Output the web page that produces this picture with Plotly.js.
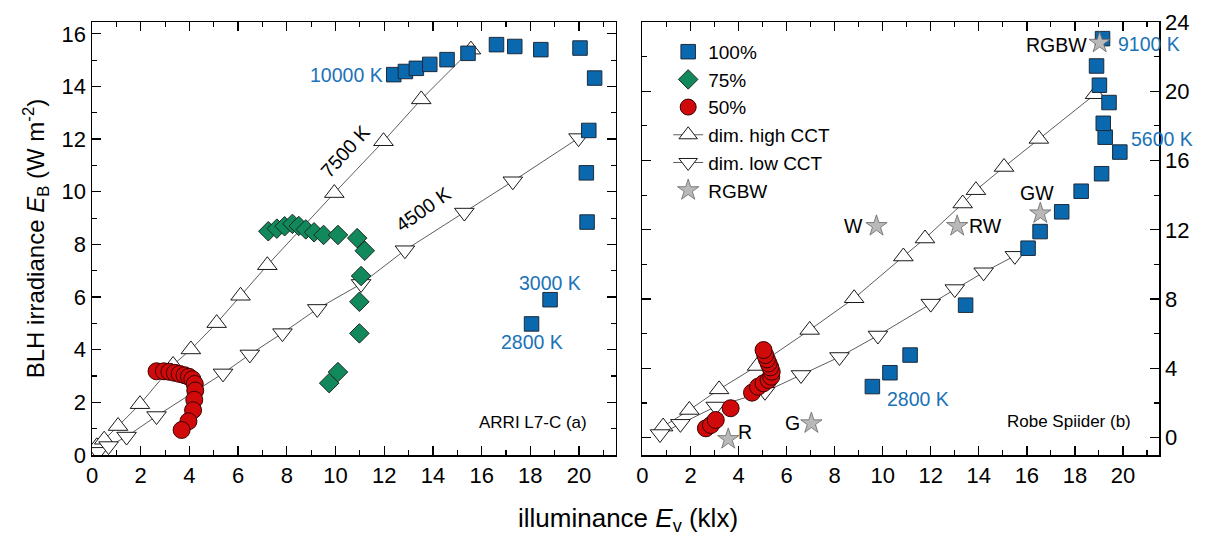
<!DOCTYPE html>
<html>
<head>
<meta charset="utf-8">
<script src="https://cdn.plot.ly/plotly-3.0.1.min.js"></script>
<style>html,body{margin:0;padding:0;background:#fff;}#chart{width:1217px;height:536px;}</style>
</head>
<body>
<div id="chart"></div>
<script>
// ---------- Panel (a): ARRI L7-C ----------
const a100x = [12.39, 12.87, 13.32, 13.87, 14.58, 15.44, 16.61, 17.36, 18.43, 20.04, 20.64, 20.4, 20.3, 20.33, 18.81, 18.05];
const a100y = [14.45, 14.57, 14.69, 14.84, 15.02, 15.26, 15.59, 15.52, 15.40, 15.46, 14.32, 12.33, 10.72, 8.85, 5.9, 4.98];
const a75x = [7.24, 7.59, 7.91, 8.23, 8.49, 8.78, 9.12, 9.51, 10.1, 10.89, 11.2, 11.05, 10.98, 10.98, 10.1, 9.74];
const a75y = [8.5, 8.6, 8.69, 8.78, 8.7, 8.57, 8.46, 8.36, 8.36, 8.24, 7.76, 6.8, 5.82, 4.62, 3.15, 2.73];
const a50x = [2.65, 2.95, 3.18, 3.4, 3.6, 3.8, 3.98, 4.12, 4.22, 4.24, 4.2, 4.15, 3.96, 3.68];
const a50y = [3.18, 3.18, 3.16, 3.12, 3.08, 3.03, 2.97, 2.88, 2.7, 2.45, 2.1, 1.7, 1.28, 0.95];
const aHighX = [0.2, 0.5, 1.07, 1.97, 3.33, 4.06, 5.12, 6.1, 7.2, 9.95, 11.97, 13.52, 15.56];
const aHighY = [0.33, 0.58, 1.1, 1.93, 3.42, 4.01, 5.01, 6.05, 7.21, 9.95, 11.92, 13.51, 15.4];
const aLowX = [0.25, 0.68, 1.42, 2.65, 5.38, 6.48, 7.82, 9.25, 11.05, 12.85, 15.29, 17.28, 19.98];
const aLowY = [0.12, 0.34, 0.7, 1.48, 3.1, 3.82, 4.63, 5.55, 6.5, 7.78, 9.21, 10.4, 12.04];

// ---------- Panel (b): Robe Spiider ----------
const b100x = [9.57, 10.3, 11.14, 13.45, 16.05, 16.55, 17.45, 18.26, 19.11, 19.87, 19.26, 19.18, 19.42, 19.02, 18.9, 19.15];
const b100y = [2.95, 3.75, 4.77, 7.65, 10.94, 11.9, 13.04, 14.23, 15.24, 16.49, 17.35, 18.15, 19.35, 20.35, 21.46, 23.04];
const b50x = [2.64, 2.85, 3.05, 3.67, 4.56, 4.81, 5.04, 5.25, 5.36, 5.38, 5.32, 5.25, 5.18, 5.11, 5.04];
const b50y = [0.54, 0.73, 1.02, 1.7, 2.6, 2.94, 3.14, 3.33, 3.52, 3.81, 4.06, 4.29, 4.52, 4.77, 5.06];
const bHighX = [0.86, 1.95, 3.19, 4.77, 6.96, 8.81, 10.86, 11.76, 13.33, 13.88, 15.05, 16.5, 18.84];
const bHighY = [0.64, 1.6, 2.79, 4.14, 6.22, 8.05, 10.46, 11.5, 13.52, 14.29, 15.63, 17.25, 19.83];
const bLowX = [0.73, 1.58, 3.05, 5.1, 6.6, 8.2, 9.8, 12.0, 13.0, 14.2, 15.5];
const bLowY = [0.21, 0.8, 1.8, 2.65, 3.62, 4.66, 5.9, 7.74, 8.58, 9.55, 10.5];
const rgbwNames = ["R", "G", "W", "RW", "GW", "RGBW"];
const rgbwX = [3.57, 7.03, 9.74, 13.1, 16.56, 19.03];
const rgbwY = [-0.08, 0.83, 12.22, 12.22, 12.95, 22.8];

// ---------- labels ----------
const tickX = [0, 2, 4, 6, 8, 10, 12, 14, 16, 18, 20];
const tickYa = [0, 2, 4, 6, 8, 10, 12, 14, 16];
const tickYb = [0, 4, 8, 12, 16, 20, 24];

const BLUE = "#0a68ae", GREEN = "#12895c", RED = "#d00a0a", STARC = "#b9b9b9";
const LBLUE = "#1a72b8";
const FONT = "Liberation Sans, Arial, sans-serif";

const lineStyle = {color: "#333", width: 0.8};
const openMk = (sym) => ({symbol: sym, size: 17, color: "#fff", line: {color: "#000", width: 0.9}});

const traces = [
  // panel a
  {x: aHighX, y: aHighY, mode: "lines+markers", line: lineStyle, marker: openMk("triangle-up"),
   name: "dim. high CCT", xaxis: "x", yaxis: "y", showlegend: false},
  {x: aLowX, y: aLowY, mode: "lines+markers", line: lineStyle, marker: openMk("triangle-down"),
   name: "dim. low CCT", xaxis: "x", yaxis: "y", showlegend: false},
  {x: a100x, y: a100y, mode: "markers", marker: {symbol: "square", size: 14.5, color: BLUE, line: {color: "#1d2b3a", width: 1}},
   name: "100%", xaxis: "x", yaxis: "y", showlegend: false},
  {x: a75x, y: a75y, mode: "markers", marker: {symbol: "diamond", size: 15, color: GREEN, line: {color: "#1a2a22", width: 1}},
   name: "75%", xaxis: "x", yaxis: "y", legendrank: 2},
  {x: a50x, y: a50y, mode: "markers", marker: {symbol: "circle", size: 17, color: RED, line: {color: "#3a0000", width: 1}},
   name: "50%", xaxis: "x", yaxis: "y", showlegend: false},
  // panel b
  {x: bHighX, y: bHighY, mode: "lines+markers", line: lineStyle, marker: openMk("triangle-up"),
   name: "dim. high CCT", xaxis: "x2", yaxis: "y2", legendrank: 4},
  {x: bLowX, y: bLowY, mode: "lines+markers", line: lineStyle, marker: openMk("triangle-down"),
   name: "dim. low CCT", xaxis: "x2", yaxis: "y2", legendrank: 5},
  {x: b100x, y: b100y, mode: "markers", marker: {symbol: "square", size: 14.5, color: BLUE, line: {color: "#1d2b3a", width: 1}},
   name: "100%", xaxis: "x2", yaxis: "y2", legendrank: 1},
  {x: b50x, y: b50y, mode: "markers", marker: {symbol: "circle", size: 17, color: RED, line: {color: "#3a0000", width: 1}},
   name: "50%", xaxis: "x2", yaxis: "y2", legendrank: 3},
  {x: rgbwX, y: rgbwY, text: rgbwNames, mode: "markers", marker: {symbol: "star", size: 16, color: STARC, line: {color: "#666", width: 0.8}},
   name: "RGBW", xaxis: "x2", yaxis: "y2", legendrank: 6}
];

const axBase = {
  showline: true, linecolor: "#000", linewidth: 1.5, mirror: "ticks", ticks: "inside",
  ticklen: 9, tickwidth: 1.3, tickcolor: "#000", showgrid: false, zeroline: false,
  tickfont: {family: FONT, size: 22, color: "#000"},
  minor: {ticks: "inside", ticklen: 5, tickwidth: 1.1, tickcolor: "#000", showgrid: false}
};

const ann = (x, y, text, xref, yref, o) => Object.assign({x, y, text, xref, yref, showarrow: false,
  font: {family: FONT, size: 19.5, color: "#000"}}, o || {});
const blueFont = {family: FONT, size: 19.5, color: LBLUE};

const annotations = [
  ann(12.05, 14.45, "10000 K", "x", "y", {xanchor: "right", font: blueFont}),
  ann(18.8, 6.55, "3000 K", "x", "y", {font: blueFont}),
  ann(18.05, 4.3, "2800 K", "x", "y", {font: blueFont}),
  ann(10.4, 11.55, "7500 K", "x", "y", {textangle: -48}),
  ann(13.6, 9.35, "4500 K", "x", "y", {textangle: -35}),
  ann(20.4, 1.25, "ARRI L7-C (a)", "x", "y", {xanchor: "right", font: {family: FONT, size: 17, color: "#000"}}),
  ann(20.4, 0.95, "Robe Spiider (b)", "x2", "y2", {xanchor: "right", font: {family: FONT, size: 17, color: "#000"}}),
  ann(11.45, 2.25, "2800 K", "x2", "y2", {font: blueFont}),
  ann(19.72, 22.72, "9100 K", "x2", "y2", {xanchor: "left", font: blueFont}),
  ann(20.25, 17.25, "5600 K", "x2", "y2", {xanchor: "left", font: blueFont}),
  ann(18.6, 22.7, "RGBW", "x2", "y2", {xanchor: "right"}),
  ann(9.25, 12.22, "W", "x2", "y2", {xanchor: "right"}),
  ann(13.5, 12.22, "RW", "x2", "y2", {xanchor: "left"}),
  ann(16.42, 14.1, "GW", "x2", "y2"),
  ann(3.9, 0.3, "R", "x2", "y2", {xanchor: "left"}),
  ann(6.65, 0.83, "G", "x2", "y2", {xanchor: "right"}),
  ann(0.502, -0.15, "illuminance <i>E</i><sub>v</sub> (klx)", "paper", "paper",
      {xanchor: "center", yanchor: "middle", font: {family: FONT, size: 26, color: "#000"}})
];

const layout = {
  width: 1217, height: 536,
  margin: {l: 92, r: 58, t: 22, b: 81},
  paper_bgcolor: "#fff", plot_bgcolor: "#fff",
  font: {family: FONT, color: "#000"},
  xaxis: Object.assign({}, axBase, {domain: [0, 0.4907], range: [0, 21.5], tickvals: tickX, minor: Object.assign({}, axBase.minor, {dtick: 1, tick0: 0})}),
  yaxis: Object.assign({}, axBase, {range: [0, 16.45], tickvals: tickYa, minor: Object.assign({}, axBase.minor, {dtick: 1, tick0: 0}),
    title: {text: "BLH irradiance <i>E</i><sub>B</sub> (W m<sup>-2</sup>)", font: {family: FONT, size: 24, color: "#000"}, standoff: 10}}),
  xaxis2: Object.assign({}, axBase, {domain: [0.5159, 1], range: [0, 21.5], tickvals: tickX, anchor: "y2", minor: Object.assign({}, axBase.minor, {dtick: 1, tick0: 0})}),
  yaxis2: Object.assign({}, axBase, {range: [-1.0, 24.0], tickvals: tickYb, side: "right", anchor: "x2", minor: Object.assign({}, axBase.minor, {dtick: 2, tick0: 0})}),
  showlegend: true,
  legend: {x: 0.54, y: 0.975, xanchor: "left", yanchor: "top", bgcolor: "rgba(0,0,0,0)",
    font: {family: FONT, size: 19, color: "#000"}, tracegroupgap: 0, itemsizing: "trace"},
  annotations: annotations
};

Plotly.newPlot("chart", traces, layout, {displayModeBar: false, staticPlot: true});
</script>
</body>
</html>
